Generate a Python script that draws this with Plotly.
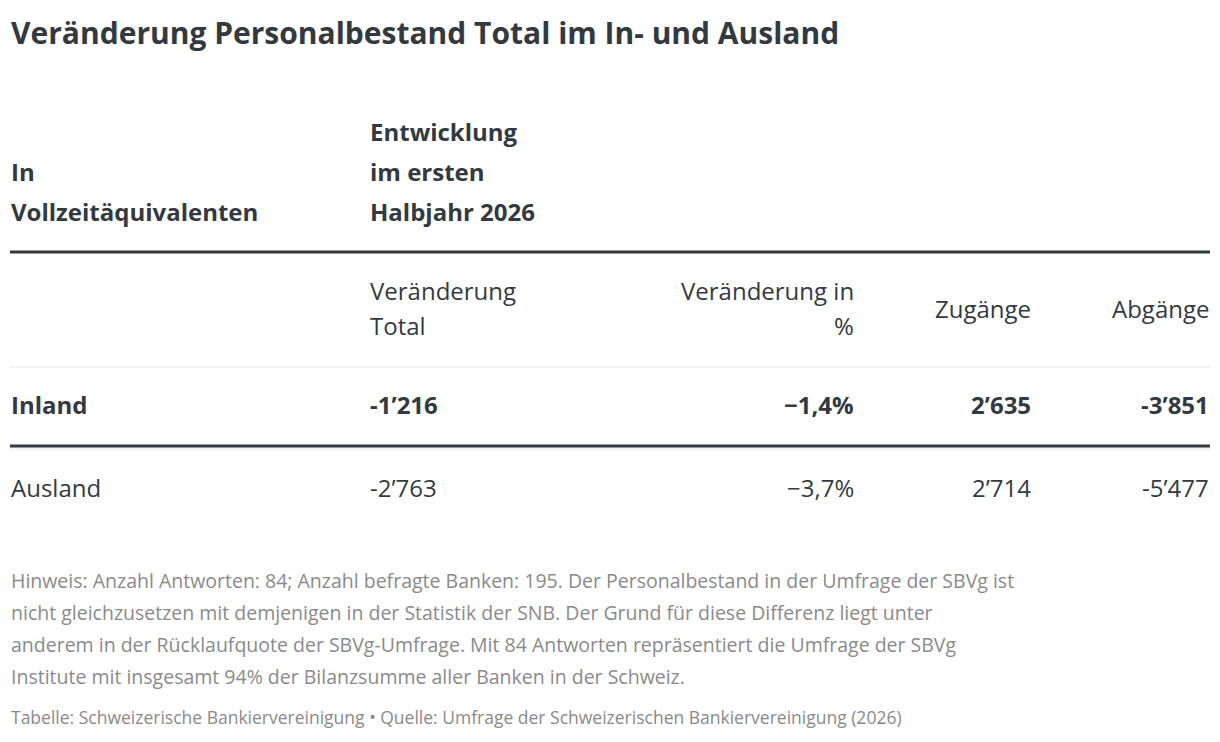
import plotly.graph_objects as go

title = "Veränderung Personalbestand Total im In- und Ausland"
row_labels = ["Inland", "Ausland"]
veraenderung_total = ["-1’216", "-2’763"]
veraenderung_pct = ["−1,4%", "−3,7%"]
zugaenge = ["2’635", "2’714"]
abgaenge = ["-3’851", "-5’477"]
note_lines = [
    "Hinweis: Anzahl Antworten: 84; Anzahl befragte Banken: 195. Der Personalbestand in der Umfrage der SBVg ist",
    "nicht gleichzusetzen mit demjenigen in der Statistik der SNB. Der Grund für diese Differenz liegt unter",
    "anderem in der Rücklaufquote der SBVg-Umfrage. Mit 84 Antworten repräsentiert die Umfrage der SBVg",
    "Institute mit insgesamt 94% der Bilanzsumme aller Banken in der Schweiz.",
]
source = "Tabelle: Schweizerische Bankiervereinigung • Quelle: Umfrage der Schweizerischen Bankiervereinigung (2026)"

FONT = "Open Sans"
DARK = "#333a3f"
GREY = "#8a8a8a"

fig = go.Figure()
ann = []

def txt(x, y, s, size=24, bold=False, anchor="left", color=DARK):
    ann.append(dict(x=x, y=y, xref="x", yref="y", text=f"<b>{s}</b>" if bold else s,
                    showarrow=False, xanchor=anchor, yanchor="middle", align=anchor,
                    borderpad=0, font=dict(family=FONT, size=size, color=color)))

txt(10, 32, title, size=30, bold=True)
for y, s in zip([171, 211], ["In", "Vollzeitäquivalenten"]):
    txt(10, y, s, bold=True, size=24)
for y, s in zip([131, 171, 211], ["Entwicklung", "im ersten", "Halbjahr 2026"]):
    txt(369, y, s, bold=True, size=24)
txt(369, 290, "Veränderung")
txt(369, 325, "Total")
txt(855, 290, "Veränderung in", anchor="right")
txt(855, 325, "%", anchor="right")
txt(1032, 308, "Zugänge", anchor="right")
txt(1210, 308, "Abgänge", anchor="right")

row_y = [404, 487]
for i, lab in enumerate(row_labels):
    b = i == 0
    txt(10, row_y[i], lab, bold=b)
    txt(369, row_y[i], veraenderung_total[i], bold=b)
    txt(855, row_y[i], veraenderung_pct[i], bold=b, anchor="right")
    txt(1032, row_y[i], zugaenge[i], bold=b, anchor="right")
    txt(1210, row_y[i], abgaenge[i], bold=b, anchor="right")

for k, line in enumerate(note_lines):
    txt(10, 580 + 32 * k, line, size=19.5, color=GREY)
txt(10, 717, source, size=17.5, color=GREY)

shapes = [
    dict(type="line", x0=10, x1=1210, y0=252, y1=252, line=dict(color=DARK, width=3)),
    dict(type="line", x0=10, x1=1210, y0=367, y1=367, line=dict(color="#e6e6e6", width=1)),
    dict(type="line", x0=10, x1=1210, y0=446, y1=446, line=dict(color=DARK, width=3)),
    dict(type="line", x0=10, x1=1210, y0=449, y1=449, line=dict(color="#e6e6e6", width=1)),
]

# page body has ~8px margin, so map figure onto the visible window area
fig.update_layout(
    width=1204, height=726, margin=dict(l=0, r=0, t=0, b=0),
    paper_bgcolor="white", plot_bgcolor="white",
    xaxis=dict(range=[8, 1212], visible=False),
    yaxis=dict(range=[734, 8], visible=False),
    annotations=ann, shapes=shapes, showlegend=False,
)
fig.write_html("out.html")
